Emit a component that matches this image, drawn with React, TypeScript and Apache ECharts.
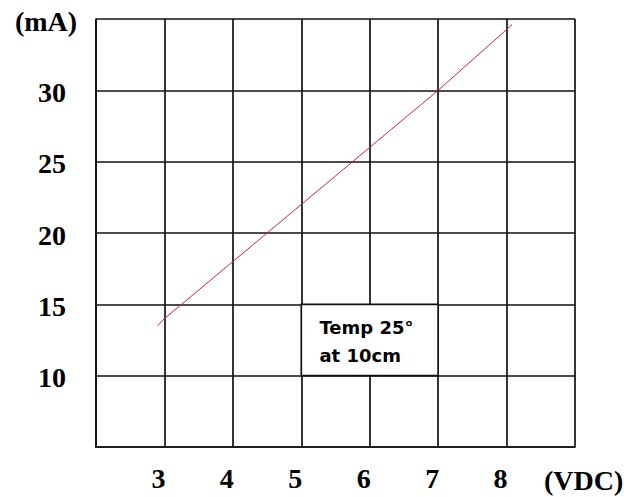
import React, { useEffect, useRef } from "react";
import * as echarts from "echarts";

const xTicks = [2, 3, 4, 5, 6, 7, 8, 9];
const yTicks = [5, 10, 15, 20, 25, 30, 35];
const voltage = [2.9, 3, 4, 5, 6, 7, 8.08];
const current = [13.5, 14, 18, 22, 26, 30, 34.6];
const noteLines = ["Temp 25°", "at 10cm"];
const xUnit = "(VDC)";
const yUnit = "(mA)";

export default function App() {
  const ref = useRef<HTMLDivElement>(null);
  useEffect(() => {
    if (!ref.current) return;
    const chart = echarts.init(ref.current, undefined, { renderer: "svg" });
    const gridLine = { color: "#111", width: 1.7 };
    const labelFont = {
      fontFamily: "Liberation Serif",
      fontWeight: "bold" as const,
      fontSize: 28,
      color: "#000",
    };
    chart.setOption({
      animation: false,
      backgroundColor: "#fff",
      grid: { left: 96, right: 69, top: 19, bottom: 50, show: false },
      xAxis: {
        type: "value",
        min: xTicks[0],
        max: xTicks[xTicks.length - 1],
        interval: 1,
        axisLine: { show: true, lineStyle: gridLine },
        axisTick: { show: false },
        splitLine: { show: true, lineStyle: gridLine },
        axisLabel: {
          ...labelFont,
          margin: 17,
          padding: [0, 12, 0, 0],
          formatter: (v: number) =>
            v === xTicks[0] || v === xTicks[xTicks.length - 1] ? "" : String(v),
        },
        name: xUnit,
        nameLocation: "end",
        nameGap: -31,
        nameTextStyle: {
          ...labelFont,
          align: "left",
          verticalAlign: "top",
          padding: [19, 0, 0, 0],
        },
      },
      yAxis: {
        type: "value",
        min: yTicks[0],
        max: yTicks[yTicks.length - 1],
        interval: 5,
        axisLine: { show: true, lineStyle: gridLine },
        axisTick: { show: false },
        splitLine: { show: true, lineStyle: gridLine },
        axisLabel: {
          ...labelFont,
          margin: 44,
          align: "center",
          padding: [4, 0, 0, 0],
          formatter: (v: number) => {
            if (v === yTicks[0]) return "";
            if (v === yTicks[yTicks.length - 1]) return "{u|" + yUnit + "}";
            return String(v);
          },
          rich: {
            u: { ...labelFont, padding: [0, 12, 0, 0] },
          },
        },
      },
      series: [
        {
          type: "line",
          data: voltage.map((v, i) => [v, current[i]]),
          showSymbol: false,
          lineStyle: { color: "#c8283c", width: 1 },
          itemStyle: { color: "#c8283c" },
          markArea: {
            silent: true,
            itemStyle: { color: "#fff", borderColor: "#111", borderWidth: 1.7 },
            label: {
              show: true,
              position: [19, 10],
              formatter: noteLines.join("\n"),
              fontFamily: "DejaVu Sans",
              fontWeight: "bold",
              fontSize: 18,
              lineHeight: 28,
              color: "#000",
              align: "left",
              verticalAlign: "top",
            },
            data: [[{ coord: [5, 15] }, { coord: [7, 10] }]],
          },
        },
      ],
    });
    return () => chart.dispose();
  }, []);
  return (
    <div
      ref={ref}
      style={{ position: "absolute", left: 0, top: 0, width: 644, height: 497 }}
    />
  );
}
